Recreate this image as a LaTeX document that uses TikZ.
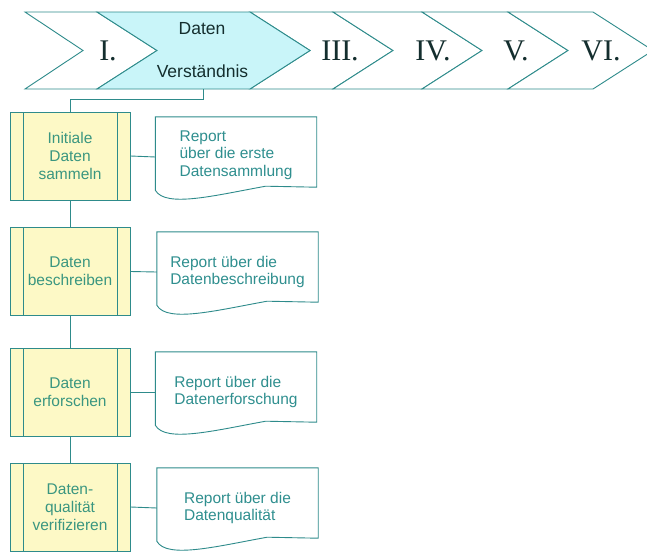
\documentclass[tikz,border=0pt]{standalone}
\usepackage{fontspec}
\setmainfont{Liberation Serif}
\setsansfont{Liberation Sans}
\definecolor{linecol}{HTML}{2E8B8B}
\definecolor{phasefill}{HTML}{C9F5F9}
\definecolor{boxfill}{HTML}{FDF9C6}
\definecolor{boxtext}{HTML}{3A9680}
\definecolor{doctext}{HTML}{2F8F8F}
\definecolor{phasetext}{HTML}{142E2E}

% outline of a document symbol around a docbox node
\newcommand\docframe[1]{%
  \draw[docline] (#1.south east) -- ([yshift=10pt]#1.north east)
    -- ([yshift=10pt]#1.north west) -- ([yshift=-3pt]#1.south west)
    .. controls ([shift={(10pt,-21pt)}]#1.south west)
       and ([shift={(-101pt,-8pt)}]#1.south east)
    .. ([shift={(-51pt,1pt)}]#1.south east) -- cycle;}

\begin{document}
\begin{tikzpicture}[x=1pt,y=-1pt,
  chev/.style={draw=linecol,line width=0.9pt,fill=white,line join=miter},
  chevactive/.style={chev,fill=phasefill},
  romanlbl/.style={font=\rmfamily\fontsize{30}{32}\selectfont,text=phasetext,inner sep=0},
  phaselbl/.style={font=\sffamily\fontsize{17.5}{20}\selectfont,text=phasetext,inner sep=0},
  procbox/.style={draw=linecol,line width=0.9pt,fill=boxfill,minimum width=120pt,
    minimum height=88pt,inner sep=0,align=center,text=boxtext,
    font=\sffamily\fontsize{15.5}{18}\selectfont,
    path picture={
      \draw[linecol,line width=0.9pt]
        ([xshift=13pt]path picture bounding box.north west) --
        ([xshift=13pt]path picture bounding box.south west)
        ([xshift=-13pt]path picture bounding box.north east) --
        ([xshift=-13pt]path picture bounding box.south east);}},
  docbox/.style={minimum width=161pt,minimum height=60pt,inner sep=0,align=left,
    text=doctext,font=\sffamily\fontsize{15.5}{17.5}\selectfont},
  docline/.style={draw=linecol,line width=0.9pt,fill=white},
  conn/.style={draw=linecol,line width=0.9pt}]

\useasboundingbox (0,0) rectangle (647,554);
\clip (0,0) rectangle (647,554);
\fill[white] (0,0) rectangle (647,554);

% phase chevrons
\draw[chev] (25,12) -- (97,12) -- (157,50.5) -- (97,89) -- (25,89) -- (83,50.5) -- cycle;
\draw[chev] (250,12) -- (333,12) -- (393,50.5) -- (333,89) -- (250,89) -- (310,50.5) -- cycle;
\draw[chev] (333,12) -- (422,12) -- (482,50.5) -- (422,89) -- (333,89) -- (393,50.5) -- cycle;
\draw[chev] (422,12) -- (508,12) -- (568,50.5) -- (508,89) -- (422,89) -- (482,50.5) -- cycle;
\draw[chev] (508,12) -- (593,12) -- (653,50.5) -- (593,89) -- (508,89) -- (568,50.5) -- cycle;
\draw[chevactive] (97,12) -- (250,12) -- (310,50.5) -- (250,89) -- (97,89) -- (157,50.5) -- cycle;

\node[romanlbl] (p1) at (108,51) {I.};
\node[phaselbl] (p2a) at (202,29) {Daten};
\node[phaselbl] (p2b) at (202.5,71) {Verständnis};
\node[romanlbl] (p3) at (340,51) {III.};
\node[romanlbl] (p4) at (433,51) {IV.};
\node[romanlbl] (p5) at (516,51) {V.};
\node[romanlbl] (p6) at (601,51) {VI.};
\coordinate (c2b) at (203,89);

% tasks
\node[procbox] (b1) at (70,156) {Initiale\\Daten\\sammeln};
\node[procbox] (b2) at (70,271.5) {Daten\\beschreiben};
\node[procbox] (b3) at (70,392) {Daten\\erforschen};
\node[procbox] (b4) at (70,507) {Daten-\\qualität\\verifizieren};

% reports
\node[docbox] (d1) at (236,157) {};
\docframe{d1}
\node[docbox] (d1t) at (236,155) {Report\\über die erste\\Datensammlung};
\node[docbox] (d2) at (237.5,272) {};
\docframe{d2}
\node[docbox] (d2t) at (237.5,272) {Report über die\\Datenbeschreibung};
\node[docbox] (d3) at (236,392) {};
\docframe{d3}
\node[docbox] (d3t) at (236,392) {Report über die\\Datenerforschung};
\node[docbox] (d4) at (237.5,508) {};
\docframe{d4}
\node[docbox] (d4t) at (237.5,508) {Report über die\\Datenqualität};

% connectors
\draw[conn] (c2b) |- ([yshift=12pt]b1.north) -- (b1.north);
\draw[conn] (b1.south) -- (b2.north);
\draw[conn] (b2.south) -- (b3.north);
\draw[conn] (b3.south) -- (b4.north);
\draw[conn] (b1.east) -- (d1.west);
\draw[conn] (b2.east) -- (d2.west);
\draw[conn] (b3.east) -- (d3.west);
\draw[conn] (b4.east) -- (d4.west);
\end{tikzpicture}
\end{document}
